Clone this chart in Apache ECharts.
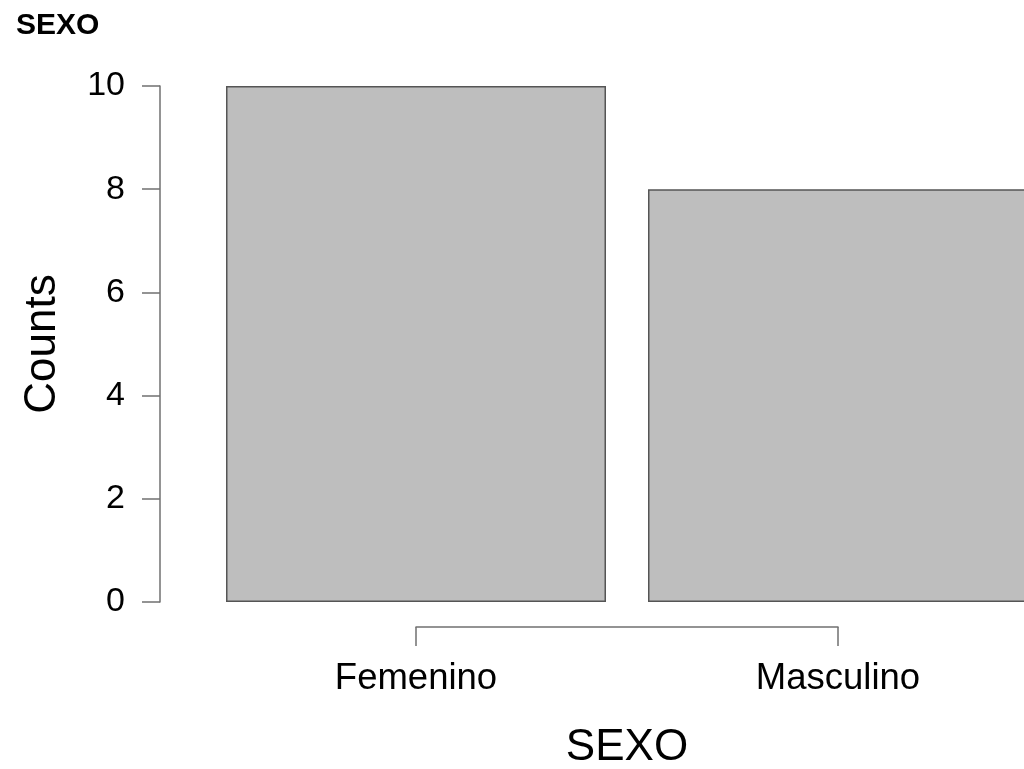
<!DOCTYPE html>
<html>
<head>
<meta charset="utf-8">
<script src="https://cdn.jsdelivr.net/npm/echarts@6/dist/echarts.min.js"></script>
<style>
html,body{margin:0;padding:0;background:#fff;}
#c{width:1024px;height:769px;}
</style>
</head>
<body>
<div id="c"></div>
<script>
var categories = ['Femenino', 'Masculino'];
var counts = [10, 8];
var yTicks = [0, 2, 4, 6, 8, 10];
var titleText = 'SEXO';
var xName = 'SEXO';
var yName = 'Counts';

var FONT = '"Liberation Sans", Arial, Helvetica, sans-serif';
var chart = echarts.init(document.getElementById('c'), null, {renderer: 'canvas'});
chart.setOption({
  backgroundColor: '#ffffff',
  animation: false,
  title: {
    text: titleText, left: 11, top: 6,
    textStyle: {fontFamily: FONT, fontWeight: 'bold', fontSize: 30, color: '#000'}
  },
  grid: [
    {left: 205, top: 86, width: 844, height: 516, outerBoundsMode: 'none', containLabel: false},
    {left: 416, top: 86, width: 422, height: 541, outerBoundsMode: 'none', containLabel: false}
  ],
  xAxis: [
    {
      type: 'category', gridIndex: 0, data: categories,
      axisLine: {show: false}, axisTick: {show: false},
      axisLabel: {fontFamily: FONT, fontSize: 36.5, color: '#000', margin: 58},
      name: xName, nameLocation: 'middle', nameGap: 124,
      nameTextStyle: {fontFamily: FONT, fontSize: 44, color: '#000'}
    },
    {
      type: 'value', gridIndex: 1, min: 0, max: 1, interval: 1,
      axisLine: {show: true, lineStyle: {color: '#707070', width: 1.5}},
      axisTick: {show: true, length: 19, lineStyle: {color: '#707070', width: 1.5}},
      axisLabel: {show: false}, splitLine: {show: false}
    }
  ],
  yAxis: [
    {
      type: 'value', gridIndex: 0, min: yTicks[0], max: yTicks[yTicks.length - 1], interval: 2,
      offset: 45,
      axisLine: {show: true, lineStyle: {color: '#707070', width: 1.5}},
      axisTick: {show: true, length: 18, lineStyle: {color: '#707070', width: 1.5}},
      axisLabel: {fontFamily: FONT, fontSize: 34, color: '#000', margin: 35},
      splitLine: {show: false},
      name: yName, nameLocation: 'middle', nameGap: 95,
      nameTextStyle: {fontFamily: FONT, fontSize: 44, color: '#000'}
    },
    {
      type: 'value', gridIndex: 1, show: false
    }
  ],
  series: [{
    type: 'bar', xAxisIndex: 0, yAxisIndex: 0,
    data: counts, barWidth: 380,
    itemStyle: {color: '#bebebe', borderColor: '#555555', borderWidth: 1.5},
    silent: true
  }]
});
</script>
</body>
</html>
